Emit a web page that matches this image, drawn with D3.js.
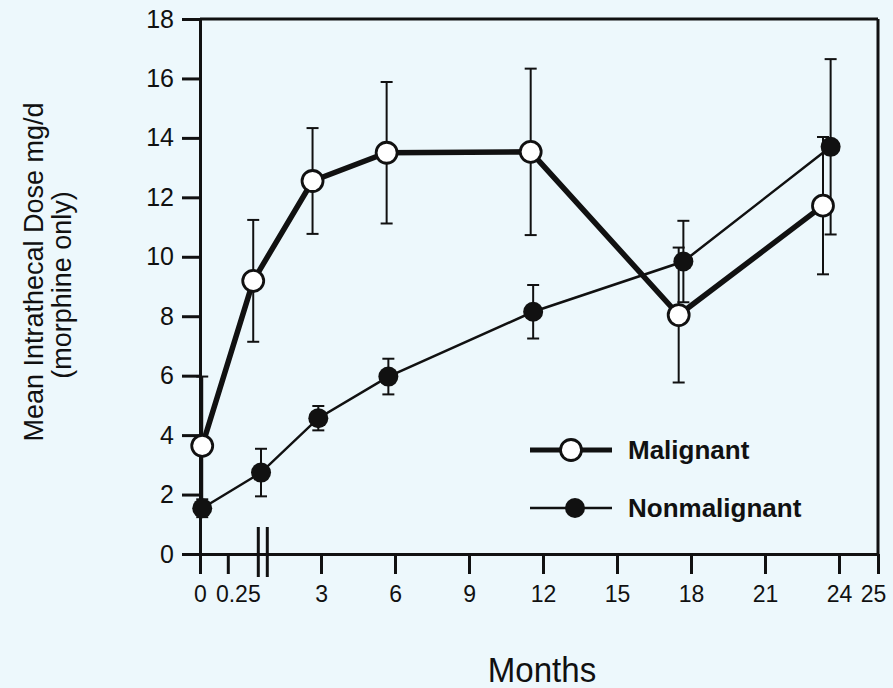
<!DOCTYPE html>
<html>
<head>
<meta charset="utf-8">
<script src="https://cdn.jsdelivr.net/npm/d3@7"></script>
<style>
    body { margin: 0; background: #edf8fc; }
    svg { display: block; font-family: "Liberation Sans", Arial, sans-serif; }
</style>
</head>
<body>
<div id="container"></div>
<script>
/* CONSTANTS AND GLOBALS */
const width = 893,
    height = 688

const plot = { left: 200, top: 19, right: 878, bottom: 554 }

// DATA
const xTicks = [0, 0.25, 3, 6, 9, 12, 15, 18, 21, 24, 25]
const yTicks = [0, 2, 4, 6, 8, 10, 12, 14, 16, 18]

const malignantMonths = [0.02, 1.0, 2.75, 5.66, 11.5, 17.5, 23.35]
const malignantDose = [3.64, 9.19, 12.55, 13.5, 13.53, 8.04, 11.72]
const malignantErr = [2.33, 2.05, 1.78, 2.38, 2.8, 2.27, 2.31]

const nonmalignantMonths = [0.02, 1.23, 2.92, 5.73, 11.6, 17.69, 23.66]
const nonmalignantDose = [1.54, 2.74, 4.57, 5.97, 8.15, 9.84, 13.7]
const nonmalignantErr = [0.3, 0.8, 0.41, 0.6, 0.9, 1.37, 2.95]

const seriesNames = ["Malignant", "Nonmalignant"]

const malignant = malignantMonths.map((m, i) => ({ month: m, dose: malignantDose[i], err: malignantErr[i] }))
const nonmalignant = nonmalignantMonths.map((m, i) => ({ month: m, dose: nonmalignantDose[i], err: nonmalignantErr[i] }))

//SCALE  (broken axis: 0 - 0.25 stretched, then 3..24 linear)
const plotW = plot.right - plot.left
const xScale = d3.scaleLinear()
    .domain([0, 0.25, 3, 24, 25])
    .range([plot.left, plot.left + plotW * 0.041, plot.left + plotW * 0.1785, plot.left + plotW * 0.9425, plot.right])

const yScale = d3.scaleLinear()
    .domain([0, 18])
    .range([plot.bottom, plot.top])

//SVG
const svg = d3.select("#container")
    .append("svg")
    .attr("width", width)
    .attr("height", height)
    .style("background-color", "#edf8fc")

// FRAME (top + right)
svg.append("line")
    .attr("x1", plot.left).attr("x2", plot.right)
    .attr("y1", plot.top).attr("y2", plot.top)
    .attr("stroke", "#111").attr("stroke-width", 3)

svg.append("line")
    .attr("x1", plot.right).attr("x2", plot.right)
    .attr("y1", plot.top).attr("y2", plot.bottom)
    .attr("stroke", "#111").attr("stroke-width", 3)

// AXES
const xAxis = d3.axisBottom(xScale)
    .tickValues(xTicks)
    .tickFormat(d => d)
    .tickSize(20)
    .tickSizeOuter(0)
    .tickPadding(12)

const yAxis = d3.axisLeft(yScale)
    .tickValues(yTicks)
    .tickSize(18)
    .tickSizeOuter(0)
    .tickPadding(8)

const gx = svg.append("g")
    .attr("class", "axis")
    .attr("transform", "translate(0," + plot.bottom + ")")
    .call(xAxis)

gx.selectAll("text")
    .style("font-size", "23px")
    .attr("dx", d => d === 0.25 ? 10 : d === 25 ? -5 : 0)

const gy = svg.append("g")
    .attr("class", "axis")
    .attr("transform", "translate(" + plot.left + ",0)")
    .call(yAxis)

gy.selectAll("text").style("font-size", "25px")

svg.selectAll(".axis path, .axis line")
    .attr("stroke", "#111")
    .attr("stroke-width", 3)
svg.selectAll(".axis text").attr("fill", "#111")

// AXIS BREAK MARK
const breakX = xScale(0.25) + 35
;[-4.5, 4.5].forEach(off => {
    svg.append("line")
        .attr("x1", breakX + off).attr("x2", breakX + off)
        .attr("y1", plot.bottom - 27).attr("y2", plot.bottom + 23)
        .attr("stroke", "#111").attr("stroke-width", 3)
})

// LINES
const line = d3.line()
    .x(d => xScale(d.month))
    .y(d => yScale(d.dose))

svg.append("path")
    .datum(nonmalignant)
    .attr("d", line)
    .attr("fill", "none")
    .attr("stroke", "#111")
    .attr("stroke-width", 2.5)

svg.append("path")
    .datum(malignant)
    .attr("d", line)
    .attr("fill", "none")
    .attr("stroke", "#111")
    .attr("stroke-width", 5.5)

// ERROR BARS
const drawErrors = (data) => {
    const g = svg.append("g")
    data.forEach(d => {
        const x = xScale(d.month)
        const y0 = yScale(d.dose - d.err), y1 = yScale(d.dose + d.err)
        g.append("line").attr("x1", x).attr("x2", x).attr("y1", y0).attr("y2", y1)
        g.append("line").attr("x1", x - 6).attr("x2", x + 6).attr("y1", y0).attr("y2", y0)
        g.append("line").attr("x1", x - 6).attr("x2", x + 6).attr("y1", y1).attr("y2", y1)
    })
    g.selectAll("line").attr("stroke", "#111").attr("stroke-width", 2)
}
drawErrors(malignant)
drawErrors(nonmalignant)

// MARKERS
svg.append("g")
    .selectAll("circle")
    .data(nonmalignant)
    .join("circle")
    .attr("cx", d => xScale(d.month))
    .attr("cy", d => yScale(d.dose))
    .attr("r", 10)
    .attr("fill", "#111")

svg.append("g")
    .selectAll("circle")
    .data(malignant)
    .join("circle")
    .attr("cx", d => xScale(d.month))
    .attr("cy", d => yScale(d.dose))
    .attr("r", 10.5)
    .attr("fill", "#fff")
    .attr("stroke", "#111")
    .attr("stroke-width", 2.8)

// LEGEND
const legend = svg.append("g")
const legendRows = [
    { name: seriesNames[0], y: 450, width: 5, open: true },
    { name: seriesNames[1], y: 508, width: 2.5, open: false }
]
legendRows.forEach(r => {
    legend.append("line")
        .attr("x1", 530).attr("x2", 612)
        .attr("y1", r.y).attr("y2", r.y)
        .attr("stroke", "#111").attr("stroke-width", r.width)
    legend.append("circle")
        .attr("cx", r.open ? 571 : 575).attr("cy", r.y)
        .attr("r", r.open ? 10.5 : 10)
        .attr("fill", r.open ? "#fff" : "#111")
        .attr("stroke", "#111").attr("stroke-width", r.open ? 2.8 : 0)
    legend.append("text")
        .attr("x", 628).attr("y", r.y + 9)
        .style("font-size", "26px")
        .style("font-weight", "bold")
        .attr("fill", "#111")
        .text(r.name)
})

// LABELS
svg.append("text")
    .attr("transform", "translate(542,682) scale(0.92,1)")
    .attr("text-anchor", "middle")
    .style("font-size", "36px")
    .attr("fill", "#111")
    .text("Months")

svg.append("text")
    .attr("transform", "translate(43,272) rotate(-90)")
    .attr("text-anchor", "middle")
    .style("font-size", "27px")
    .attr("fill", "#111")
    .text("Mean Intrathecal Dose mg/d")

svg.append("text")
    .attr("transform", "translate(71,285) rotate(-90)")
    .attr("text-anchor", "middle")
    .style("font-size", "27px")
    .attr("fill", "#111")
    .text("(morphine only)")
</script>
</body>
</html>
